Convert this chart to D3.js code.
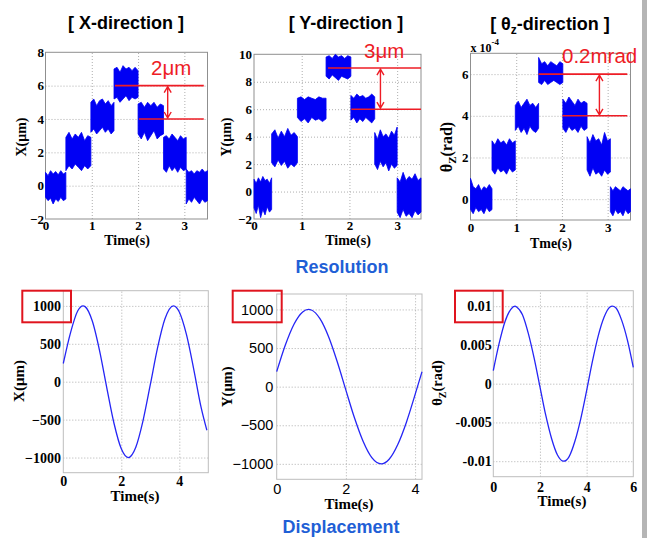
<!DOCTYPE html>
<html><head><meta charset="utf-8">
<script src="https://cdn.jsdelivr.net/npm/d3@7"></script>
<style>body{margin:0;background:#fff;} svg{display:block;}</style>
</head><body>
<svg id="c" width="650" height="538"></svg>
<script>
// ---------------- DATA ----------------
// Resolution: X-direction (μm)
const xResBreaks = [0, 0.44, 0.98, 1.48, 2.0, 2.55, 3.04, 3.5];
const xResLevels = [0, 2, 4, 6, 4, 2, 0];
const xResHi = [
  [0.8,0.6,0.9,0.7,0.85,0.65,0.9,0.7,0.8],
  [2.9,3.2,2.8,3.1,2.9,3.2,2.7,3.0,2.9],
  [5.0,5.2,4.8,5.1,5.2,4.9,5.1,4.8,5.0],
  [7.0,7.1,6.8,7.2,7.0,7.1,6.9,7.1,6.9],
  [4.9,5.0,4.7,5.0,4.8,5.0,4.7,4.9,4.8],
  [2.9,3.0,2.8,3.1,2.9,2.7,3.0,2.8,2.9],
  [1.0,0.8,0.9,0.7,0.9,0.8,1.0,0.8,0.9]];
const xResLo = [
  [-0.7,-0.9,-0.75,-1.1,-0.8,-0.95,-0.7,-0.9,-0.8],
  [0.9,1.2,1.0,1.3,1.1,0.9,1.2,1.0,1.2],
  [3.2,3.4,3.1,3.3,3.5,3.2,3.4,3.1,3.3],
  [5.2,5.3,5.0,5.2,5.4,5.1,5.3,5.2,5.3],
  [3.1,2.8,3.2,2.7,3.0,3.3,2.8,3.0,3.1],
  [1.0,0.8,1.2,0.9,1.1,0.8,1.1,0.9,1.0],
  [-1.1,-0.8,-1.0,-0.7,-0.9,-1.1,-0.8,-1.0,-0.9]];
const xResYTicks = [-2, 0, 2, 4, 6, 8];
const xResXTicks = [0, 1, 2, 3];
const xResMarkLevels = [6, 4];
const xResMarkStart = [1.5, 2.02];
const xResMarkEnd = 3.42;
const xResArrowT = 2.64;

// Resolution: Y-direction (μm)
const yResBreaks = [0, 0.37, 0.91, 1.51, 2.03, 2.53, 3.0, 3.5];
const yResLevels = [0, 3, 6, 9, 6, 3, 0];
const yResHi = [
  [0.9,0.6,1.0,0.7,1.1,0.8,0.9,0.6,1.0],
  [4.2,4.5,3.9,4.4,4.0,4.6,4.1,4.3,4.0],
  [6.8,6.9,6.7,6.9,6.8,6.7,6.9,6.8,6.8],
  [9.8,9.9,9.7,10.0,9.8,9.9,9.7,9.9,9.8],
  [7.0,6.8,7.1,6.9,7.0,6.8,6.9,7.1,6.9],
  [4.3,3.8,4.5,4.0,4.2,3.9,4.4,4.1,4.7],
  [1.0,0.7,1.4,0.8,1.1,0.9,1.3,0.8,1.0]];
const yResLo = [
  [-1.2,-1.6,-1.0,-1.9,-1.3,-1.7,-1.1,-1.5,-1.3],
  [2.1,1.8,2.3,1.9,2.2,1.7,2.0,1.8,2.1],
  [5.4,5.1,5.3,5.0,5.4,5.2,5.3,5.1,5.3],
  [8.4,8.2,8.5,8.3,8.1,8.4,8.3,8.2,8.4],
  [5.2,5.4,5.0,5.3,5.1,5.4,5.2,5.0,5.3],
  [2.0,1.6,2.2,1.8,2.1,1.5,2.0,1.7,1.9],
  [-1.5,-1.9,-1.3,-1.8,-1.6,-1.9,-1.4,-1.7,-1.5]];
const yResYTicks = [-2, 0, 2, 4, 6, 8, 10];
const yResXTicks = [0, 1, 2, 3];
const yResMarkLevels = [9, 6];
const yResMarkStart = [1.55, 2.04];
const yResMarkEnd = 3.5;
const yResArrowT = 2.65;

// Resolution: θz-direction (x 10^-4 rad)
const tResBreaks = [0, 0.47, 0.98, 1.49, 2.02, 2.55, 3.06, 3.5];
const tResLevels = [0, 2, 4, 6, 4, 2, 0];
const tResHi = [
  [1.0,0.6,0.5,0.7,0.4,0.6,0.5,0.7,0.5],
  [2.8,2.6,2.9,2.7,2.8,2.6,2.9,2.7,2.8],
  [4.5,4.7,4.4,4.6,4.8,4.5,4.6,4.4,4.6],
  [6.8,6.5,6.6,6.4,6.6,6.5,6.4,6.6,6.5],
  [4.8,4.6,4.9,4.7,4.5,4.8,4.6,4.7,4.6],
  [3.0,2.7,3.1,2.8,2.9,2.6,3.2,2.8,2.9],
  [0.6,0.4,0.6,0.5,0.4,0.6,0.5,0.4,0.5]];
const tResLo = [
  [-0.5,-0.7,-0.4,-0.6,-0.5,-0.7,-0.4,-0.6,-0.5],
  [1.4,1.2,1.5,1.3,1.4,1.2,1.5,1.3,1.4],
  [3.3,3.5,3.2,3.4,3.1,3.5,3.3,3.2,3.4],
  [5.6,5.5,5.7,5.5,5.6,5.7,5.6,5.5,5.6],
  [3.4,3.2,3.5,3.3,3.4,3.2,3.5,3.3,3.4],
  [1.4,1.1,1.5,1.2,1.3,1.1,1.4,1.2,1.3],
  [-0.6,-0.8,-0.5,-0.7,-0.6,-0.8,-0.5,-0.7,-0.6]];
const tResYTicks = [0, 2, 4, 6];
const tResXTicks = [0, 1, 2, 3];
const tResMarkLevels = [6, 4];
const tResMarkStart = [1.49, 2.01];
const tResMarkEnd = 3.43;
const tResArrowT = 2.82;

// Displacement: X (μm)
const xDispT = [0,0.25,0.5,0.68,0.75,1.0,1.25,1.5,1.75,2.0,2.24,2.5,2.75,3.0,3.25,3.5,3.8,4.0,4.25,4.5,4.75,4.95];
const xDispV = [240,648,935,1000,990,800,411,-80,-551,-885,-1000,-863,-512,-40,446,823,1000,920,617,160,-336,-640];
const xDispYTicks = [-1000,-500,0,500,1000];
const xDispXTicks = [0,2,4];

// Displacement: Y (μm)
const yDispT = [0,0.25,0.5,0.75,0.92,1.0,1.25,1.5,1.75,2.0,2.25,2.5,2.75,3.02,3.25,3.5,3.75,4.0,4.2];
const yDispV = [194,539,809,968,1000,993,880,646,322,-45,-407,-711,-920,-1000,-940,-749,-460,-104,193];
const yDispYTicks = [-1000,-500,0,500,1000];
const yDispXTicks = [0,2,4];

// Displacement: θz (rad)
const tDispT = [0,0.25,0.5,0.75,0.93,1.0,1.25,1.5,1.75,2.0,2.25,2.5,2.75,3.015,3.25,3.5,3.75,4.0,4.25,4.5,4.75,5.0,5.1,5.25,5.5,5.75,6.0];
const tDispV = [0.0017,0.0052,0.0080,0.0096,0.0100,0.0099,0.0089,0.0065,0.0033,-0.0004,-0.0041,-0.0071,-0.0092,-0.0100,-0.0094,-0.0074,-0.0045,-0.0009,0.0029,0.0062,0.0086,0.0099,0.0100,0.0098,0.0082,0.0056,0.0021];
const tDispYTicks = [-0.01,-0.005,0,0.005,0.01];
const tDispYLabels = ["-0.01","-0.005","0","0.005","0.01"];
const tDispXTicks = [0,2,4,6];

// ---------------- DRAW ----------------
const svg = d3.select('#c');
svg.append('rect').attr('width',650).attr('height',538).attr('fill','#fff');
svg.append('rect').attr('x',642).attr('y',0).attr('width',5).attr('height',538).attr('fill','#b5b5b5');

const SERIF = '"Liberation Serif","Times New Roman",serif';
const SANS = '"Liberation Sans",Arial,sans-serif';
const BLUE = '#0000f4';
const RED = '#ee1c25';

function panel(c) {
  const x = d3.scaleLinear().domain(c.xd).range([c.l, c.r]);
  const y = d3.scaleLinear().domain(c.yd).range([c.b, c.t]);
  const g = svg.append('g');
  // grid
  const gx = g.append('g').attr('transform',`translate(0,${c.b})`)
    .call(d3.axisBottom(x).tickValues(c.xt.filter(v=>v>c.xd[0]&&v<c.xd[1])).tickSize(-(c.b-c.t)).tickFormat(''));
  const gy = g.append('g').attr('transform',`translate(${c.l},0)`)
    .call(d3.axisLeft(y).tickValues(c.yt.filter(v=>v>c.yd[0]&&v<c.yd[1])).tickSize(-(c.r-c.l)).tickFormat(''));
  [gx,gy].forEach(a=>{a.select('.domain').remove();
    a.selectAll('line').attr('stroke','#9a9a9a').attr('stroke-width',0.8).attr('stroke-dasharray','1,2');});
  // box
  g.append('rect').attr('x',c.l).attr('y',c.t).attr('width',c.r-c.l).attr('height',c.b-c.t)
    .attr('fill','none').attr('stroke',c.boxColor||'#8f8f8f').attr('stroke-width',1);
  // axes labels
  const ax = g.append('g').attr('transform',`translate(0,${c.b})`)
    .call(d3.axisBottom(x).tickValues(c.xt).tickSize(0).tickPadding(c.xpad).tickFormat(d3.format('')));
  const ay = g.append('g').attr('transform',`translate(${c.l},0)`)
    .call(d3.axisLeft(y).tickValues(c.yt).tickSize(0).tickPadding(c.ypad)
      .tickFormat(c.ylab ? ((d,i)=>c.ylab[i]) : d3.format('')));
  [ax,ay].forEach(a=>{a.select('.domain').remove();
    a.selectAll('text').attr('font-family',c.tickFont).attr('font-weight',c.tickWeight)
      .attr('font-size',c.tickSize).attr('fill','#000');});
  return {x,y,g};
}

function resPanel(c, breaks, levels, hi, lo, markLevels, markStart, markEnd, arrowT, note, noteX, noteY) {
  const p = panel(c);
  const area = d3.area().x(d=>p.x(d.t)).y0(d=>p.y(d.lo)).y1(d=>p.y(d.hi));
  levels.forEach((lv,i)=>{
    const n = hi[i].length, t0 = breaks[i], t1 = breaks[i+1];
    const pts = hi[i].map((h,k)=>({t: t0 + k*(t1-t0)/(n-1), hi:h, lo:lo[i][k]}));
    p.g.append('path').datum(pts).attr('d',area).attr('fill',BLUE)
      .attr('stroke',BLUE).attr('stroke-width',0.8).attr('stroke-linejoin','miter');
  });
  // red marks
  markLevels.forEach((lv,i)=>{
    p.g.append('line').attr('x1',p.x(markStart[i])).attr('x2',p.x(markEnd))
      .attr('y1',p.y(lv)).attr('y2',p.y(lv)).attr('stroke',RED).attr('stroke-width',1.6);
  });
  const ax = p.x(arrowT), ya = p.y(markLevels[0]), yb = p.y(markLevels[1]);
  p.g.append('path').attr('d',`M${ax},${ya+1}L${ax},${yb-1}M${ax-3.5},${ya+7}L${ax},${ya+1}L${ax+3.5},${ya+7}M${ax-3.5},${yb-7}L${ax},${yb-1}L${ax+3.5},${yb-7}`)
    .attr('fill','none').attr('stroke',RED).attr('stroke-width',1.4);
  p.g.append('text').attr('x',noteX).attr('y',noteY).text(note)
    .attr('font-family',SANS).attr('font-size',20.5).attr('fill',RED);
  return p;
}

function dispPanel(c, T, V) {
  const p = panel(c);
  const pts = T.map((t,i)=>[t,V[i]]);
  p.g.append('path').datum(pts)
    .attr('d', d3.line().x(d=>p.x(d[0])).y(d=>p.y(d[1])).curve(d3.curveMonotoneX))
    .attr('fill','none').attr('stroke','#2525f5').attr('stroke-width',1.3);
  return p;
}

function text(x,y,s,opts) {
  const t = svg.append('text').attr('x',x).attr('y',y).text(s)
    .attr('font-family',opts.f||SERIF).attr('font-weight',opts.w||'bold')
    .attr('font-size',opts.s||14).attr('fill',opts.c||'#000')
    .attr('text-anchor',opts.a||'middle');
  if (opts.rot) t.attr('transform',`rotate(-90,${x},${y})`);
  return t;
}

// ---- top row
resPanel({l:45.5,r:207.5,t:52.3,b:219,xd:[0,3.5],yd:[-2,8],xt:xResXTicks,yt:xResYTicks,
  xpad:1.5,ypad:1.5,tickFont:SERIF,tickWeight:'bold',tickSize:13},
  xResBreaks,xResLevels,xResHi,xResLo,xResMarkLevels,xResMarkStart,xResMarkEnd,xResArrowT,'2μm',151,75);
resPanel({l:254,r:421,t:54.3,b:219,xd:[0,3.5],yd:[-2,10],xt:yResXTicks,yt:yResYTicks,
  xpad:1.5,ypad:2,tickFont:SERIF,tickWeight:'bold',tickSize:13},
  yResBreaks,yResLevels,yResHi,yResLo,yResMarkLevels,yResMarkStart,yResMarkEnd,yResArrowT,'3μm',364,57.5);
resPanel({l:470.5,r:630.5,t:53.3,b:220,xd:[0,3.5],yd:[-1,7],xt:tResXTicks,yt:tResYTicks,
  xpad:2.5,ypad:2,tickFont:SERIF,tickWeight:'bold',tickSize:13},
  tResBreaks,tResLevels,tResHi,tResLo,tResMarkLevels,tResMarkStart,tResMarkEnd,tResArrowT,'0.2mrad',562,62.5);

// ---- bottom row
dispPanel({l:63.3,r:208.3,t:290.7,b:472.7,xd:[0,5],yd:[-1200,1200],xt:xDispXTicks,yt:xDispYTicks,
  xpad:3.4,ypad:2.3,tickFont:SERIF,tickWeight:'bold',tickSize:14,boxColor:'#bdbdbd'}, xDispT, xDispV);
dispPanel({l:276.7,r:422,t:294,b:479.3,xd:[0,4.2],yd:[-1200,1200],xt:yDispXTicks,yt:yDispYTicks,
  xpad:4.8,ypad:3.4,tickFont:SANS,tickWeight:'normal',tickSize:14.5,boxColor:'#bdbdbd'}, yDispT, yDispV);
dispPanel({l:493.3,r:633.3,t:290.7,b:476.7,xd:[0,6],yd:[-0.012,0.012],xt:tDispXTicks,yt:tDispYTicks,ylab:tDispYLabels,
  xpad:5,ypad:1.6,tickFont:SERIF,tickWeight:'bold',tickSize:14,boxColor:'#bdbdbd'}, tDispT, tDispV);

// red boxes
[[22.3,71],[232.7,281.7],[455,502.7]].forEach(b=>{
  svg.append('rect').attr('x',b[0]).attr('y',290.7).attr('width',b[1]-b[0]).attr('height',31.6)
    .attr('fill','none').attr('stroke','#e0141e').attr('stroke-width',2);
});

// titles
text(126,29,'[ X-direction ]',{f:SANS,w:'bold',s:18});
text(346,29,'[ Y-direction ]',{f:SANS,w:'bold',s:18});
const tt = text(550,30,'[ θ',{f:SANS,w:'bold',s:18});
tt.append('tspan').attr('font-size',12).attr('dy',4).text('z');
tt.append('tspan').attr('dy',-4).text('-direction ]');
text(342,273,'Resolution',{f:SANS,w:'bold',s:18,c:'#1f5fd6'});
text(341,533,'Displacement',{f:SANS,w:'bold',s:18,c:'#1f5fd6'});

// axis titles top
text(127,245,'Time(s)',{s:14});
text(348,245,'Time(s)',{s:14});
text(551,247.5,'Tme(s)',{s:14});
text(26,137,'X(μm)',{s:14,rot:true});
text(231,137,'Y(μm)',{s:14,rot:true});
const ty = text(452,147,'θ',{s:16,rot:true});
ty.append('tspan').attr('font-size',11).attr('dy',4).text('Z');
ty.append('tspan').attr('dy',-4).text('(rad)');
const ex = text(470.5,51.5,'x 10',{s:12,a:'start'});
ex.append('tspan').attr('font-size',9).attr('dy',-7).text('-4');

// axis titles bottom
text(135,501,'Time(s)',{s:15});
text(349,509,'Time(s)',{s:15});
text(562,506,'Time(s)',{s:15});
text(24,381,'X(μm)',{s:15,rot:true});
text(232,386.7,'Y(μm)',{s:14.5,rot:true});
const tb = text(442,383,'θ',{s:14.5,rot:true});
tb.append('tspan').attr('font-size',10).attr('dy',4).text('Z');
tb.append('tspan').attr('dy',-4).text('(rad)');
</script>
</body></html>
